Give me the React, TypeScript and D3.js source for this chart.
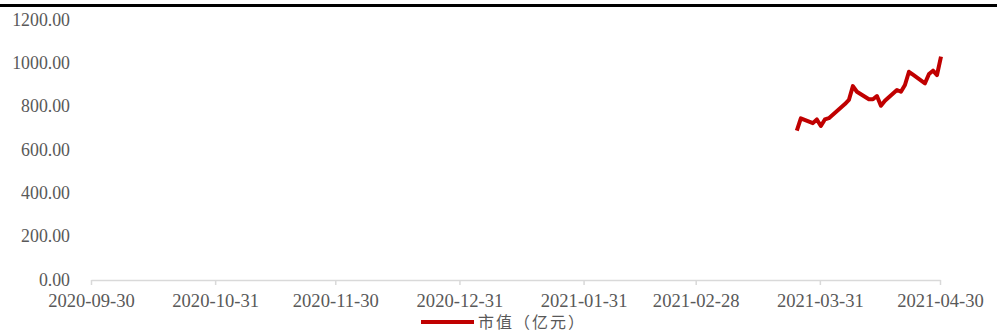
import React, { useEffect, useRef } from "react";
import * as d3 from "d3";

const dates = [
  "2021-03-25", "2021-03-26", "2021-03-29", "2021-03-30", "2021-03-31",
  "2021-04-01", "2021-04-02", "2021-04-06", "2021-04-07", "2021-04-08",
  "2021-04-09", "2021-04-12", "2021-04-13", "2021-04-14", "2021-04-15",
  "2021-04-16", "2021-04-19", "2021-04-20", "2021-04-21", "2021-04-22",
  "2021-04-23", "2021-04-26", "2021-04-27", "2021-04-28", "2021-04-29",
  "2021-04-30",
];
const marketValue = [
  689, 746, 724, 741, 711,
  741, 747, 812, 831, 895,
  869, 834, 834, 849, 804,
  827, 877, 869, 900, 961,
  948, 908, 951, 966, 946,
  1031,
];
const xTicks = [
  "2020-09-30", "2020-10-31", "2020-11-30", "2020-12-31",
  "2021-01-31", "2021-02-28", "2021-03-31", "2021-04-30",
];
const yTicks = [0, 200, 400, 600, 800, 1000, 1200];
const seriesName = "市值（亿元）";

const W = 997;
const H = 333;
const serif = "'Liberation Serif', 'Times New Roman', serif";

function App() {
  const ref = useRef<SVGSVGElement>(null);

  useEffect(() => {
    document.body.style.margin = "0";
    const parse = d3.timeParse("%Y-%m-%d");
    const svg = d3.select(ref.current);
    svg.selectAll("*").remove();

    const x = d3.scaleTime()
      .domain([parse(xTicks[0])!, parse(xTicks[xTicks.length - 1])!])
      .range([91, 940]);
    const y = d3.scaleLinear().domain([0, 1200]).range([280, 20]);

    // top rule
    svg.append("rect")
      .attr("x", 0).attr("y", 4).attr("width", W).attr("height", 3)
      .attr("fill", "#000");

    // y labels (no axis line)
    svg.append("g")
      .selectAll("text")
      .data(yTicks)
      .enter()
      .append("text")
      .attr("x", 70)
      .attr("y", (d) => y(d))
      .attr("dy", "0.32em")
      .attr("text-anchor", "end")
      .attr("font-family", serif)
      .attr("font-size", 17.8)
      .attr("fill", "#595959")
      .text((d) => d3.format(".2f")(d));

    // x axis
    const xAxis = d3.axisBottom(x)
      .tickValues(xTicks.map((t) => parse(t)!))
      .tickFormat((d) => d3.timeFormat("%Y-%m-%d")(d as Date))
      .tickSize(5)
      .tickSizeOuter(0);
    const gx = svg.append("g").attr("transform", "translate(0,280)").call(xAxis);
    gx.attr("font-family", serif);
    gx.select(".domain").attr("stroke", "#d9d9d9").attr("stroke-width", 1.5);
    gx.selectAll(".tick line").attr("stroke", "#d9d9d9").attr("stroke-width", 1.5);
    gx.selectAll(".tick text")
      .attr("y", 14)
      .attr("dy", "0.71em")
      .attr("font-family", serif)
      .attr("font-size", 18.6)
      .attr("fill", "#595959");

    // series line
    const pts = dates.map((d, i) => ({ date: parse(d)!, v: marketValue[i] }));
    const line = d3.line<{ date: Date; v: number }>()
      .x((d) => x(d.date) + 1)
      .y((d) => y(d.v));
    svg.append("path")
      .datum(pts)
      .attr("d", line)
      .attr("fill", "none")
      .attr("stroke", "#c00000")
      .attr("stroke-width", 4)
      .attr("stroke-linejoin", "round");

    // legend
    svg.append("line")
      .attr("x1", 421).attr("x2", 474).attr("y1", 322).attr("y2", 322)
      .attr("stroke", "#c00000").attr("stroke-width", 4);
    svg.append("text")
      .attr("x", 478).attr("y", 322).attr("dy", "0.35em")
      .attr("font-family", "'Noto Sans CJK SC', sans-serif")
      .attr("font-size", 16)
      .attr("letter-spacing", 2)
      .attr("fill", "#595959")
      .text(seriesName);
  }, []);

  return (
    <svg ref={ref} width={W} height={H} style={{ display: "block", background: "#fff" }} />
  );
}

export default App;
